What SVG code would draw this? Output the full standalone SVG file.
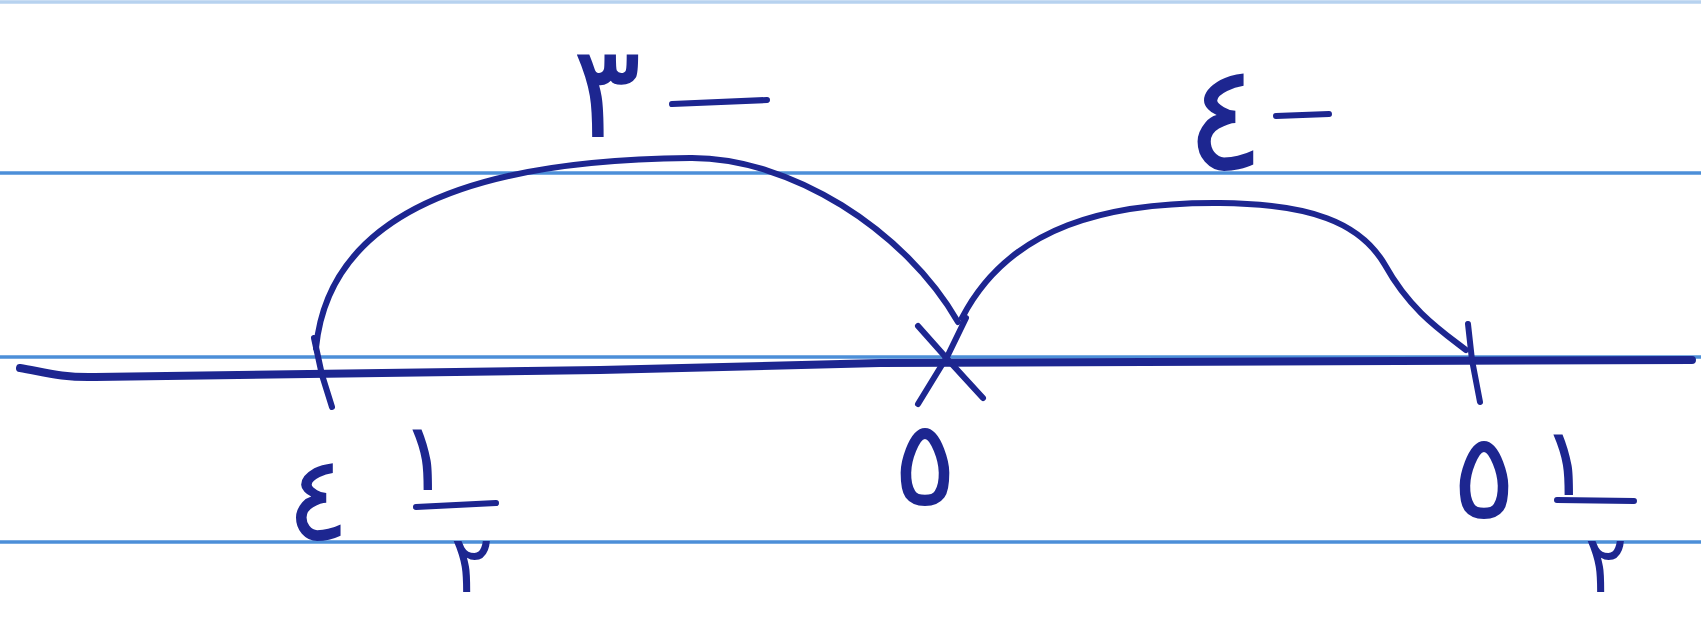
<svg xmlns="http://www.w3.org/2000/svg" width="1701" height="617" viewBox="0 0 1701 617">
<style>
.rule{stroke:#4c8fd8;stroke-width:3.5;fill:none}
.ink{stroke:#1d2690;stroke-width:6;fill:none;stroke-linecap:round;stroke-linejoin:round}
.axis{stroke:#1d2690;stroke-width:8;fill:none;stroke-linecap:round}
.lbl{font-family:"DejaVu Sans",sans-serif;fill:#1d2690}
</style>
<rect width="1701" height="617" fill="#ffffff"/>
<g id="ruled-lines">
<line class="rule" x1="0" y1="2" x2="1701" y2="2" stroke-opacity="0.4"/>
<line class="rule" x1="0" y1="173" x2="1701" y2="173"/>
<line class="rule" x1="0" y1="357" x2="1701" y2="357"/>
<line class="rule" x1="0" y1="542" x2="1701" y2="542"/>
</g>
<g id="number-line">
<path class="axis" d="M20,368 C40,371 60,378 95,377 L600,370 L880,363 L1692,360"/>
</g>
<g id="point-4-half">
<path class="ink" d="M314,338 L322,375 L332,407"/>
<text class="lbl" x="318" y="540" font-size="120" text-anchor="middle">٤</text>
<text class="lbl" x="425" y="490" font-size="95" text-anchor="middle">١</text>
<path class="ink" d="M416,507 L496,503" stroke-width="7"/>
<text class="lbl" x="472" y="592" font-size="80" text-anchor="middle">٢</text>
</g>
<g id="point-5">
<path class="ink" d="M918,404 L948,355 L966,318"/>
<path class="ink" d="M918,326 L950,362 L983,398"/>
<text class="lbl" x="925" y="505" font-size="120" text-anchor="middle">٥</text>
</g>
<g id="point-5-half">
<path class="ink" d="M1468,324 L1472,360 L1480,402"/>
<text class="lbl" x="1484" y="518" font-size="120" text-anchor="middle">٥</text>
<text class="lbl" x="1566" y="495" font-size="95" text-anchor="middle">١</text>
<path class="ink" d="M1557,500 L1634,501" stroke-width="7"/>
<text class="lbl" x="1606" y="592" font-size="80" text-anchor="middle">٢</text>
</g>
<g id="connectors">
<path class="ink" d="M316,348 C328,225 450,160 690,158 C790,157 905,230 958,322"/>
<path class="ink" d="M962,318 C1010,225 1110,202 1220,203 C1310,204 1360,222 1385,265 C1410,310 1440,330 1466,350"/>
<text class="lbl" x="607" y="137" font-size="130" text-anchor="middle">٣</text>
<path class="ink" d="M672,104 L767,100" stroke-width="8"/>
<text class="lbl" x="1225" y="170" font-size="150" text-anchor="middle">٤</text>
<path class="ink" d="M1276,116 L1329,114" stroke-width="7"/>
</g>
</svg>
